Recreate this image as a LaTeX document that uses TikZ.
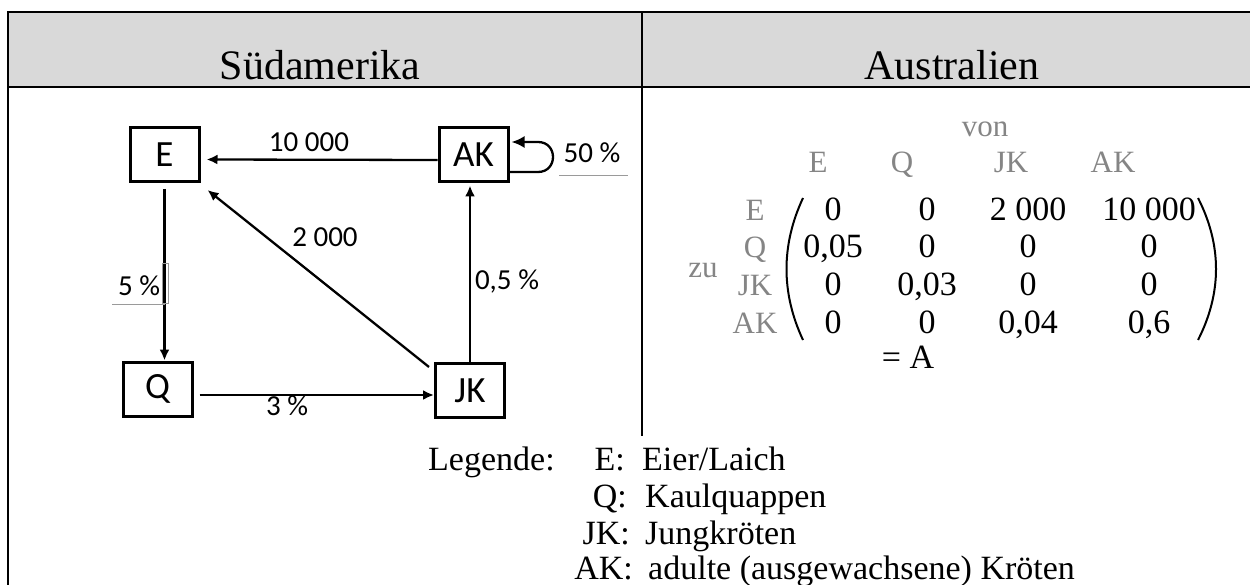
\documentclass[tikz,border=0pt]{standalone}
\usepackage{fontspec}
\setmainfont{Liberation Serif}
\newfontfamily\carl{Carlito}
\usetikzlibrary{arrows.meta}
\definecolor{hdr}{HTML}{D9D9D9}
\definecolor{lbl}{HTML}{858585}
\definecolor{uline}{HTML}{9A9A9A}
\begin{document}
\begin{tikzpicture}[x=1pt,y=-1pt,
  stagebox/.style={draw, line width=3pt, minimum width=69pt, minimum height=54pt, inner sep=0pt, font=\carl\fontsize{37}{40}\selectfont},
  arr/.style={line width=2.3pt, -{Latex[length=11pt,width=10pt]}},
  elab/.style={anchor=base, inner sep=0pt, font=\carl\fontsize{29}{32}\selectfont},
  hd/.style={anchor=base, inner sep=0pt, font=\fontsize{42}{48}\selectfont},
  mlab/.style={anchor=base, inner sep=0pt, text=lbl, font=\fontsize{31}{34}\selectfont},
  ment/.style={anchor=base, inner sep=0pt, font=\fontsize{34}{38}\selectfont},
  leg/.style={anchor=base west, inner sep=0pt, font=\fontsize{34}{38}\selectfont},
  legkey/.style={anchor=base east, inner sep=0pt, font=\fontsize{34}{38}\selectfont},
  frame/.style={line width=2.8pt},
  thinline/.style={uline, line width=0.8pt},
  paren/.style={line width=2pt}
]
\useasboundingbox (0,0) rectangle (1250,585);
% frame
\fill[hdr] (8,12) rectangle (1250,87);
\draw[frame] (1250,12) -- (8,12) -- (8,585);
\draw[frame] (8,87) -- (1250,87);
\draw[line width=2pt] (642,12) -- (642,436);
\node[hd] (h1) at (320,80) {Südamerika};
\node[hd] (h2) at (952,80) {Australien};

% diagram
\node[stagebox] (E) at (164.5,154.5) {E};
\node[stagebox] (AK) at (473.5,155) {AK};
\node[stagebox] (Q) at (157.5,389) {Q};
\node[stagebox] (JK) at (470,390.5) {JK};

\draw[arr] ([yshift=-5pt]AK.west) -- ([xshift=6pt,yshift=-5pt]E.east);
\draw[arr] ([yshift=-6pt]E.south) -- (E.south |- Q.north);
\draw[arr] ([xshift=6pt,yshift=-6pt]Q.east) -- ([yshift=-6pt]Q.east -| JK.west);
\draw[arr] (JK.north) -- ([yshift=-2pt]JK.north |- AK.south);
\draw[arr] ([xshift=-5pt,yshift=-5pt]JK.north west) -- ([xshift=7pt,yshift=-7pt]E.south east);
\coordinate (la) at (538,172);
\coordinate (lb) at (538,142);
\draw[line width=2.3pt, -{Latex[length=13pt,width=12pt]}] ([yshift=-17pt]AK.east) -- (la) .. controls +(20,0) and +(20,0) .. (lb) -- ([xshift=2pt,yshift=13pt]AK.east);

\node[elab] (l1) at (309,152) {10 000};
\node[elab] (l2) at (325,247) {2 000};
\node[elab] (l3) at (139,295) {5 \%};
\node[elab] (l4) at (507,290) {0,5 \%};
\node[elab] (l5) at (592,163) {50 \%};
\node[elab] (l6) at (287,415) {3 \%};
\draw[thinline] (559,175) -- (628,175);
\draw[thinline] (112,304) -- (165,304);
\draw[uline, line width=0.6pt] (162,263) rectangle (168,303);

% matrix
\node[mlab] (von) at (985,137) {von};
\node[mlab] (cE) at (818,173) {E};
\node[mlab] (cQ) at (902,173) {Q};
\node[mlab] (cJK) at (1011,173) {JK};
\node[mlab] (cAK) at (1113,173) {AK};
\node[mlab] (rE) at (755,221) {E};
\node[mlab] (rQ) at (755,258) {Q};
\node[mlab] (rJK) at (755,295) {JK};
\node[mlab] (rAK) at (755,333) {AK};
\node[mlab] (zu) at (703,278) {zu};

\node[ment] (m11) at (833,221) {0};
\node[ment] (m12) at (927,221) {0};
\node[ment] (m13) at (1028,221) {2 000};
\node[ment] (m14) at (1149,221) {10 000};
\node[ment] (m21) at (833,258) {0,05};
\node[ment] (m22) at (927,258) {0};
\node[ment] (m23) at (1028,258) {0};
\node[ment] (m24) at (1149,258) {0};
\node[ment] (m31) at (833,295) {0};
\node[ment] (m32) at (927,295) {0,03};
\node[ment] (m33) at (1028,295) {0};
\node[ment] (m34) at (1149,295) {0};
\node[ment] (m41) at (833,333) {0};
\node[ment] (m42) at (927,333) {0};
\node[ment] (m43) at (1028,333) {0,04};
\node[ment] (m44) at (1149,333) {0,6};
\node[ment] (eqA) at (908,368) {= A};
\draw[paren] (803,198) .. controls (781,245) and (781,293) .. (803,340);
\draw[paren] (1198,198) .. controls (1222,245) and (1222,293) .. (1198,340);

% legend
\node[leg] (lg) at (428,470) {Legende:};
\node[legkey] (k1) at (625,470) {E:};
\node[leg] (t1) at (642,470) {Eier/Laich};
\node[legkey] (k2) at (627,507) {Q:};
\node[leg] (t2) at (645,507) {Kaulquappen};
\node[legkey] (k3) at (630,544) {JK:};
\node[leg] (t3) at (645,544) {Jungkröten};
\node[legkey] (k4) at (633,579) {AK:};
\node[leg] (t4) at (648,579) {adulte (ausgewachsene) Kröten};
\end{tikzpicture}
\end{document}
